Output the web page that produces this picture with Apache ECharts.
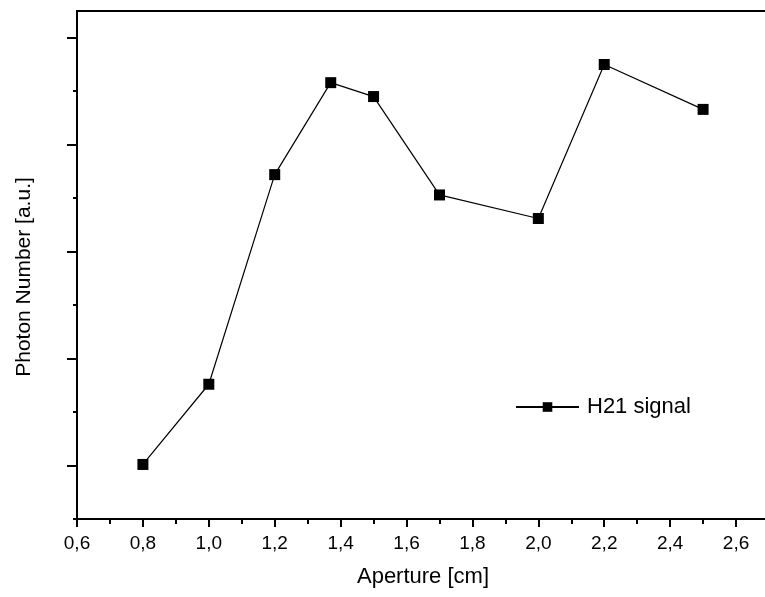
<!DOCTYPE html>
<html>
<head>
<meta charset="utf-8">
<script src="https://cdn.jsdelivr.net/npm/echarts@6/dist/echarts.min.js"></script>
<style>
  html, body { margin: 0; padding: 0; background: #fff; }
  #chart { width: 765px; height: 597px; }
</style>
</head>
<body>
<div id="chart"></div>
<script>
// data (y in arbitrary units, major y tick = 1)
var aperture = [0.8, 1.0, 1.2, 1.37, 1.5, 1.7, 2.0, 2.2, 2.5]
var photons = [1.01, 1.76, 3.72, 4.58, 4.45, 3.53, 3.31, 4.75, 4.33]
var yMajorTicks = [1, 2, 3, 4, 5]
var yMinorTicks = [0.5, 1.5, 2.5, 3.5, 4.5]

var font = 'Liberation Sans, Arial, Helvetica, sans-serif'
var chart = echarts.init(document.getElementById('chart'))

var points = aperture.map(function (x, i) { return [x, photons[i]] })

var option = {
  animation: false,
  backgroundColor: '#fff',
  grid: {
    left: 77,
    width: 692,
    top: 11,
    height: 508,
    outerBoundsMode: 'none',
    containLabel: false,
    show: true,
    borderColor: '#000',
    borderWidth: 2
  },
  legend: {
    left: 515,
    top: 396,
    padding: 0,
    itemWidth: 63,
    itemHeight: 12,
    itemGap: 0,
    textStyle: { fontFamily: font, fontSize: 22, color: '#000', padding: [0, 0, 0, 3] },
    data: ['H21 signal']
  },
  xAxis: {
    type: 'value',
    min: 0.6,
    max: 2.7,
    interval: 0.2,
    name: 'Aperture [cm]',
    nameLocation: 'middle',
    nameGap: 47,
    nameTextStyle: { fontFamily: font, fontSize: 22, color: '#000' },
    splitLine: { show: false },
    axisLine: { lineStyle: { color: '#000', width: 2 } },
    axisTick: { inside: false, length: 8, lineStyle: { color: '#000', width: 2 } },
    minorTick: { show: true, splitNumber: 2, length: 5, lineStyle: { color: '#000', width: 2 } },
    axisLabel: {
      fontFamily: font, fontSize: 19, color: '#000', margin: 15,
      showMaxLabel: false,
      formatter: function (v) { return v.toFixed(1).replace('.', ',') }
    }
  },
  yAxis: [
    {
      type: 'value',
      min: 0.5,
      max: 5.25,
      name: 'Photon Number [a.u.]',
      nameLocation: 'middle',
      nameGap: 42,
      nameTextStyle: { fontFamily: font, fontSize: 21, color: '#000', padding: [0, 24, 0, 0] },
      splitLine: { show: false },
      axisLine: { lineStyle: { color: '#000', width: 2 } },
      axisTick: { customValues: yMinorTicks, length: 4, lineStyle: { color: '#000', width: 2 } },
      axisLabel: { show: false }
    },
    {
      type: 'value',
      position: 'left',
      offset: 0,
      min: 0.5,
      max: 5.25,
      splitLine: { show: false },
      axisLine: { show: false },
      axisTick: { customValues: yMajorTicks, length: 10, lineStyle: { color: '#000', width: 2 } },
      axisLabel: { show: false }
    }
  ],
  series: [
    {
      name: 'H21 signal',
      type: 'line',
      yAxisIndex: 0,
      data: points,
      symbol: 'rect',
      symbolSize: 11,
      itemStyle: { color: '#000' },
      lineStyle: { color: '#000', width: 1.2 }
    }
  ]
}

chart.setOption(option)
</script>
</body>
</html>
